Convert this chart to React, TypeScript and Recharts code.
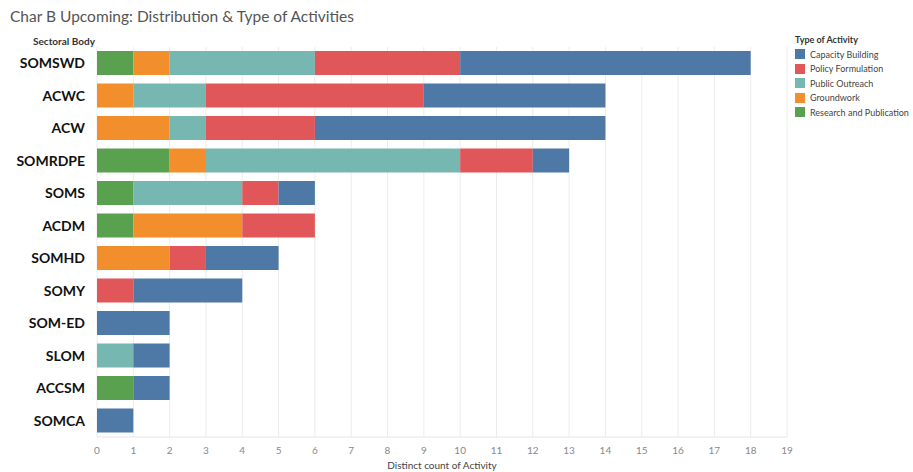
import { BarChart, Bar, XAxis, YAxis, CartesianGrid } from 'recharts'

const bodies = ['SOMSWD', 'ACWC', 'ACW', 'SOMRDPE', 'SOMS', 'ACDM', 'SOMHD', 'SOMY', 'SOM-ED', 'SLOM', 'ACCSM', 'SOMCA']

// stacked left to right
const research = [1, 0, 0, 2, 1, 1, 0, 0, 0, 0, 1, 0]
const groundwork = [1, 1, 2, 1, 0, 3, 2, 0, 0, 0, 0, 0]
const outreach = [4, 2, 1, 7, 3, 0, 0, 0, 0, 1, 0, 0]
const policy = [4, 6, 3, 2, 1, 2, 1, 1, 0, 0, 0, 0]
const capacity = [8, 5, 8, 1, 1, 0, 2, 3, 2, 1, 1, 1]

const xTicks = [0, 1, 2, 3, 4, 5, 6, 7, 8, 9, 10, 11, 12, 13, 14, 15, 16, 17, 18, 19]

const legendItems = [
  { name: 'Capacity Building', color: '#4e79a7' },
  { name: 'Policy Formulation', color: '#e15759' },
  { name: 'Public Outreach', color: '#76b7b2' },
  { name: 'Groundwork', color: '#f28e2b' },
  { name: 'Research and Publication', color: '#59a14f' },
]

const data = bodies.map((body, i) => ({
  body,
  research: research[i],
  groundwork: groundwork[i],
  outreach: outreach[i],
  policy: policy[i],
  capacity: capacity[i],
}))

const font = 'Lato, "Open Sans", sans-serif'

export default function App() {
  return (
    <div style={{ position: 'absolute', left: 0, top: 0, width: 913, height: 472, fontFamily: font, background: '#fff' }}>
      <div style={{ position: 'absolute', left: 10, top: 7, fontSize: 15.5, color: '#555', whiteSpace: 'nowrap' }}>
        Char B Upcoming: Distribution &amp; Type of Activities
      </div>
      <div style={{ position: 'absolute', left: 33, top: 35, fontSize: 10, fontWeight: 700, color: '#333', whiteSpace: 'nowrap' }}>
        Sectoral Body
      </div>

      <BarChart
        width={913}
        height={472}
        data={data}
        layout="vertical"
        margin={{ top: 47, right: 126, bottom: 0, left: 0 }}
        barSize={24}
      >
        <CartesianGrid horizontal={false} stroke="#ececec" strokeWidth={1} />
        <XAxis
          type="number"
          domain={[0, 19]}
          ticks={xTicks}
          interval={0}
          tickLine={false}
          axisLine={{ stroke: '#e6e6e6' }}
          tick={{ fontSize: 10, fill: '#888', fontFamily: font }}
          tickMargin={4}
          height={35}
          label={{ value: 'Distinct count of Activity', position: 'insideBottom', offset: 3, fontSize: 10, fill: '#444', fontFamily: font }}
        />
        <YAxis
          type="category"
          dataKey="body"
          width={97}
          tickLine={false}
          axisLine={false}
          tickMargin={6}
          tick={{ fontSize: 14, fontWeight: 700, fill: '#111', fontFamily: font }}
        />
        <Bar dataKey="research" stackId="a" fill="#59a14f" isAnimationActive={false} />
        <Bar dataKey="groundwork" stackId="a" fill="#f28e2b" isAnimationActive={false} />
        <Bar dataKey="outreach" stackId="a" fill="#76b7b2" isAnimationActive={false} />
        <Bar dataKey="policy" stackId="a" fill="#e15759" isAnimationActive={false} />
        <Bar dataKey="capacity" stackId="a" fill="#4e79a7" isAnimationActive={false} />
      </BarChart>

      <div style={{ position: 'absolute', left: 795, top: 34, fontSize: 9, color: '#333', whiteSpace: 'nowrap' }}>
        <div style={{ fontWeight: 700, marginBottom: 2 }}>Type of Activity</div>
        {legendItems.map((item) => (
          <div key={item.name} style={{ display: 'flex', alignItems: 'center', height: 14.5 }}>
            <span style={{ width: 10, height: 10, background: item.color, marginRight: 5, display: 'inline-block', flexShrink: 0 }} />
            <span style={{ color: '#444' }}>{item.name}</span>
          </div>
        ))}
      </div>
    </div>
  )
}
